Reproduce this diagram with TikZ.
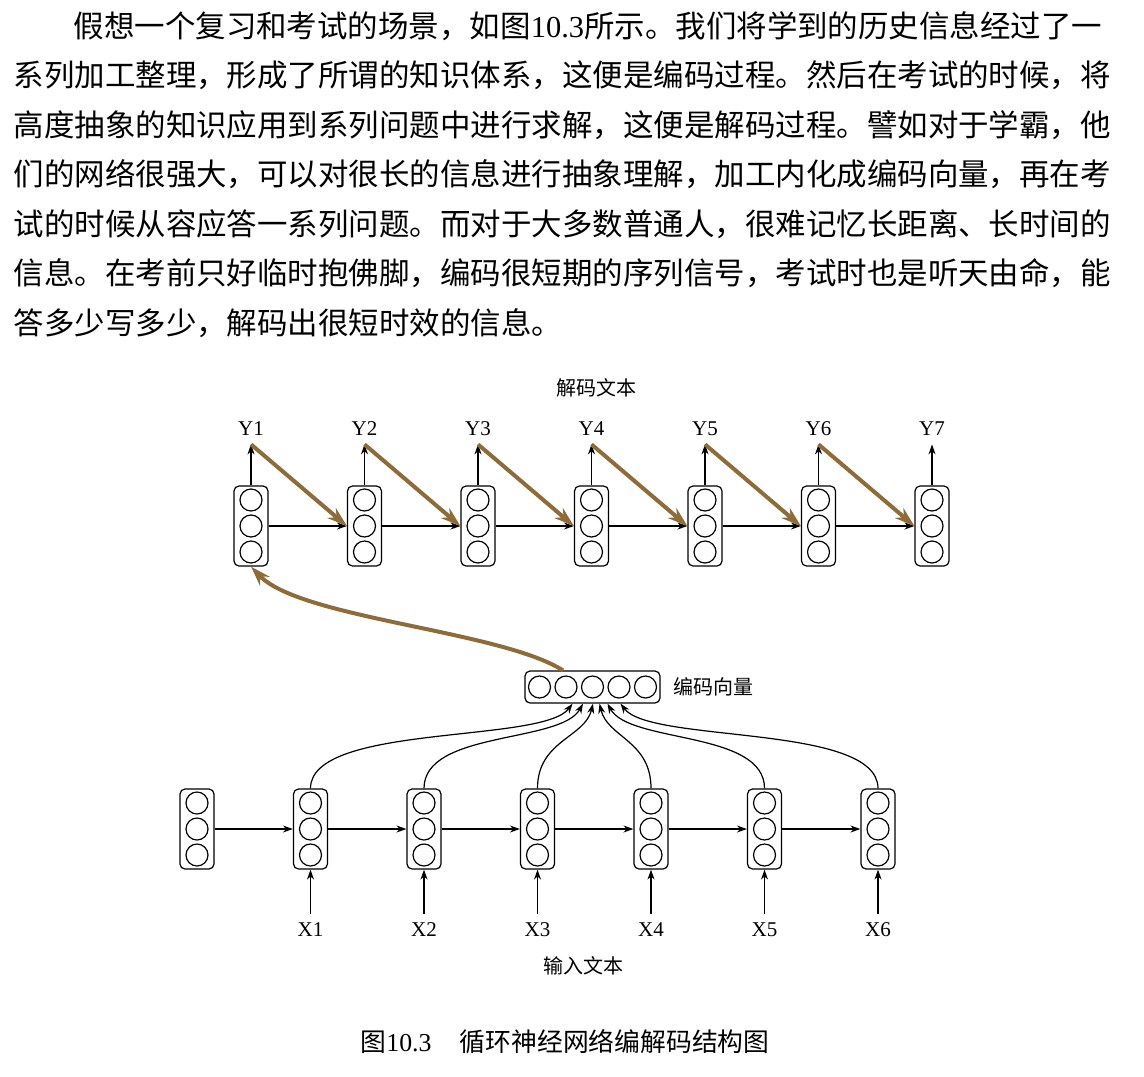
\documentclass[tikz,border=0pt]{standalone}
\usepackage{fontspec}
\setmainfont{Liberation Serif}
\newfontfamily\cjk{Noto Sans CJK SC}
\usetikzlibrary{positioning,arrows.meta}
\definecolor{cbrown}{RGB}{142,108,58}

\begin{document}
\begin{tikzpicture}[
        x=0.5pt, y=-0.5pt,
        >={Stealth[length=5pt,width=3.5pt]},
        node distance=56.75pt,
        semithick,
        cell/.style={draw, rounded corners=2.5pt, minimum width=17pt,
            minimum height=40pt, inner sep=0pt,
            path picture={\foreach \k in {-1,0,1}
                \draw[semithick] ([yshift=\k*13pt]path picture bounding box.center) circle (5.5pt);}},
        codevec/.style={draw, rounded corners=2.5pt, minimum width=67.5pt,
            minimum height=16pt, inner sep=0pt,
            path picture={\foreach \k in {-2,...,2}
                \draw[semithick] ([xshift=\k*13.25pt]path picture bounding box.center) circle (5.5pt);}},
        lab/.style={inner sep=4pt, text height=7pt, text depth=0pt, font=\fontsize{10.5pt}{12pt}\selectfont},
        zh/.style={inner sep=0pt, font=\cjk\fontsize{10pt}{12pt}\selectfont},
        para/.style={anchor=base west, inner sep=0pt, font=\cjk\fontsize{15.24pt}{16pt}\selectfont},
        fb/.style={color=cbrown, line width=2pt, -{Stealth[length=10pt,width=6.5pt]}}
        ]
        \useasboundingbox (0,0) rectangle (1144,1076);

        % paragraph
        \node[para] (p1) at (73,37) {假想一个复习和考试的场景，如图{\rmfamily 10.3}所示。我们将学到的历史信息经过了一};
        \node[para] (p2) at (13,86.5) {系列加工整理，形成了所谓的知识体系，这便是编码过程。然后在考试的时候，将};
        \node[para] (p3) at (13,136) {高度抽象的知识应用到系列问题中进行求解，这便是解码过程。譬如对于学霸，他};
        \node[para] (p4) at (13,185.5) {们的网络很强大，可以对很长的信息进行抽象理解，加工内化成编码向量，再在考};
        \node[para] (p5) at (13,235) {试的时候从容应答一系列问题。而对于大多数普通人，很难记忆长距离、长时间的};
        \node[para] (p6) at (13,284.5) {信息。在考前只好临时抱佛脚，编码很短期的序列信号，考试时也是听天由命，能};
        \node[para] (p7) at (13,334) {答多少写多少，解码出很短时效的信息。};

        % decoder
        \node[zh] (dectitle) at (596,388) {解码文本};
        \node[cell] (d1) at (251,526) {};
        \node[cell] (d2) [right of=d1] {};
        \node[cell] (d3) [right of=d2] {};
        \node[cell] (d4) [right of=d3] {};
        \node[cell] (d5) [right of=d4] {};
        \node[cell] (d6) [right of=d5] {};
        \node[cell] (d7) [right of=d6] {};
        \node[lab, above=20.5pt of d1] (y1) {Y1};
        \node[lab, above=20.5pt of d2] (y2) {Y2};
        \node[lab, above=20.5pt of d3] (y3) {Y3};
        \node[lab, above=20.5pt of d4] (y4) {Y4};
        \node[lab, above=20.5pt of d5] (y5) {Y5};
        \node[lab, above=20.5pt of d6] (y6) {Y6};
        \node[lab, above=20.5pt of d7] (y7) {Y7};

        % code vector
        \node[codevec] (vec) at (592.5,687) {};
        \node[zh, right=6pt of vec] (veclab) {编码向量};

        % encoder
        \node[cell] (e0) at (197,829) {};
        \node[cell] (e1) [right of=e0] {};
        \node[cell] (e2) [right of=e1] {};
        \node[cell] (e3) [right of=e2] {};
        \node[cell] (e4) [right of=e3] {};
        \node[cell] (e5) [right of=e4] {};
        \node[cell] (e6) [right of=e5] {};
        \node[lab, below=22pt of e1] (x1) {X1};
        \node[lab, below=22pt of e2] (x2) {X2};
        \node[lab, below=22pt of e3] (x3) {X3};
        \node[lab, below=22pt of e4] (x4) {X4};
        \node[lab, below=22pt of e5] (x5) {X5};
        \node[lab, below=22pt of e6] (x6) {X6};
        \node[zh] (enctitle) at (583,966) {输入文本};

        \path[->]
              (d1) edge (d2)
              (d2) edge (d3)
              (d3) edge (d4)
              (d4) edge (d5)
              (d5) edge (d6)
              (d6) edge (d7)

              (d1) edge (y1)
              (d2) edge (y2)
              (d3) edge (y3)
              (d4) edge (y4)
              (d5) edge (y5)
              (d6) edge (y6)
              (d7) edge (y7)

              (e0) edge (e1)
              (e1) edge (e2)
              (e2) edge (e3)
              (e3) edge (e4)
              (e4) edge (e5)
              (e5) edge (e6)

              (x1) edge (e1)
              (x2) edge (e2)
              (x3) edge (e3)
              (x4) edge (e4)
              (x5) edge (e5)
              (x6) edge (e6);

        \draw[->] (e1.north) .. controls +(0,-65) and +(-30,40) .. ([xshift=-10pt]vec.south);
        \draw[->] (e2.north) .. controls +(0,-58) and +(-22,40) .. ([xshift=-4.75pt]vec.south);
        \draw[->] (e3.north) .. controls +(0,-48) and +(-8,34) .. ([xshift=0.25pt]vec.south);
        \draw[->] (e4.north) .. controls +(0,-48) and +(8,34) .. ([xshift=3.5pt]vec.south);
        \draw[->] (e5.north) .. controls +(0,-58) and +(22,40) .. ([xshift=7.5pt]vec.south);
        \draw[->] (e6.north) .. controls +(0,-65) and +(30,40) .. ([xshift=14pt]vec.south);

        % feedback
        \path[fb]
              (y1.south) edge (d2.west)
              (y2.south) edge (d3.west)
              (y3.south) edge (d4.west)
              (y4.south) edge (d5.west)
              (y5.south) edge (d6.west)
              (y6.south) edge (d7.west);
        \draw[fb] ([xshift=-14.75pt]vec.north) .. controls +(-63,-40) and +(49,52) .. (d1.south);

        \node[anchor=west, inner sep=0pt, font=\fontsize{12.9pt}{14pt}\selectfont] (cap) at (360,1042)
              {{\cjk 图}10.3\hspace{1.1em}{\cjk 循环神经网络编解码结构图}};
\end{tikzpicture}
\end{document}
